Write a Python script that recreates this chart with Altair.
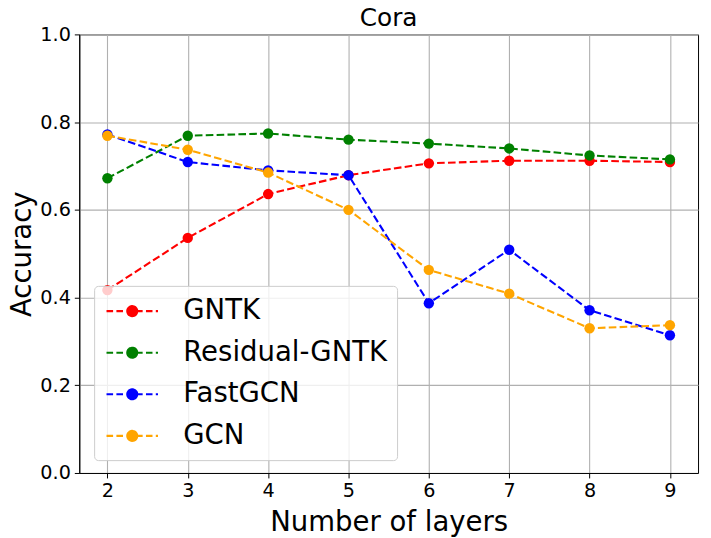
import altair as alt
import pandas as pd

layers_x = [2, 3, 4, 5, 6, 7, 8, 9]
series_names = ["GNTK", "Residual-GNTK", "FastGCN", "GCN"]
series_colors = ["#ff0000", "#008000", "#0000ff", "#ffa500"]
gntk = [0.417, 0.536, 0.636, 0.679, 0.706, 0.712, 0.712, 0.709]
residual_gntk = [0.672, 0.769, 0.774, 0.760, 0.751, 0.740, 0.724, 0.715]
fastgcn = [0.772, 0.709, 0.690, 0.679, 0.387, 0.509, 0.371, 0.314]
gcn = [0.769, 0.737, 0.685, 0.600, 0.463, 0.409, 0.330, 0.337]
y_ticks = [0.0, 0.2, 0.4, 0.6, 0.8, 1.0]

values = [gntk, residual_gntk, fastgcn, gcn]
rows = []
for name, vals in zip(series_names, values):
    for x, v in zip(layers_x, vals):
        rows.append({"layers": x, "acc": v, "series": name})
df = pd.DataFrame(rows)

FONT = "DejaVu Sans"

# legend symbol: dashed line with a filled dot (unit coordinates, 1 unit = 14px)
def circ(r):
    return f"M{r},0A{r},{r} 0 1 0 {-r},0A{r},{r} 0 1 0 {r},0"

sym = ("M-1.857,0L-1.381,0M-1.143,0L-0.667,0M-0.43,0L-0.3,0"
       "M0.3,0L0.75,0M0.99,0L1.46,0M1.70,0L1.857,0"
       + circ(0.36) + circ(0.27) + circ(0.18) + circ(0.09) + circ(0.02))

color_scale = alt.Scale(domain=series_names, range=series_colors)
x_enc = alt.X("layers:Q",
              scale=alt.Scale(domain=[1.65, 9.35], nice=False, zero=False),
              axis=alt.Axis(values=layers_x, format="d", title="Number of layers"))
y_enc = alt.Y("acc:Q",
              scale=alt.Scale(domain=[0, 1], nice=False),
              axis=alt.Axis(values=y_ticks, format=".1f", title="Accuracy"))

legend = alt.Legend(
    title=None, orient="none", legendX=15, legendY=254,
    symbolType=sym, symbolSize=784, symbolStrokeWidth=2.1, symbolDash=[1, 0],
    symbolOffset=13,
    labelFontSize=27.8, labelFont=FONT, labelOffset=36, labelColor="black",
    labelLimit=500, rowPadding=12, padding=10,
    fillColor="rgba(255,255,255,0.8)", strokeColor="#cccccc", cornerRadius=4,
)

layer_list = []
for i, name in enumerate(series_names):
    base = alt.Chart(df).transform_filter(alt.datum.series == name)
    line = base.mark_line(strokeDash=[7.7, 3.3], strokeWidth=2.1).encode(
        x=x_enc, y=y_enc,
        color=alt.Color("series:N", scale=color_scale, legend=legend, sort=series_names),
    )
    pts = base.mark_point(filled=True, size=110, opacity=1, shape="circle").encode(
        x=x_enc, y=y_enc,
        color=alt.Color("series:N", scale=color_scale, legend=None, sort=series_names),
    )
    layer_list += [line, pts]

chart = alt.layer(*layer_list).properties(
    width=625, height=443,
    title=alt.TitleParams("Cora", fontSize=25, font=FONT, fontWeight="normal",
                          color="black", anchor="middle", offset=-7),
    autosize=alt.AutoSizeParams(type="none"),
    padding={"left": 72, "top": 24, "right": 5, "bottom": 63},
).configure_view(
    stroke="black", strokeWidth=1
).configure_axis(
    labelFont=FONT, labelFontSize=19.4, labelColor="black",
    titleFont=FONT, titleFontSize=27.8, titleFontWeight="normal", titleColor="black",
    domainColor="black", domainWidth=1, tickColor="black", tickSize=5, tickWidth=1,
    labelPadding=4, gridColor="#b0b0b0", gridWidth=1.1, gridOpacity=1,
).configure_axisX(titlePadding=9).configure_axisY(titlePadding=3)

chart.save("out.html", embed_options={"renderer": "svg", "actions": False})
